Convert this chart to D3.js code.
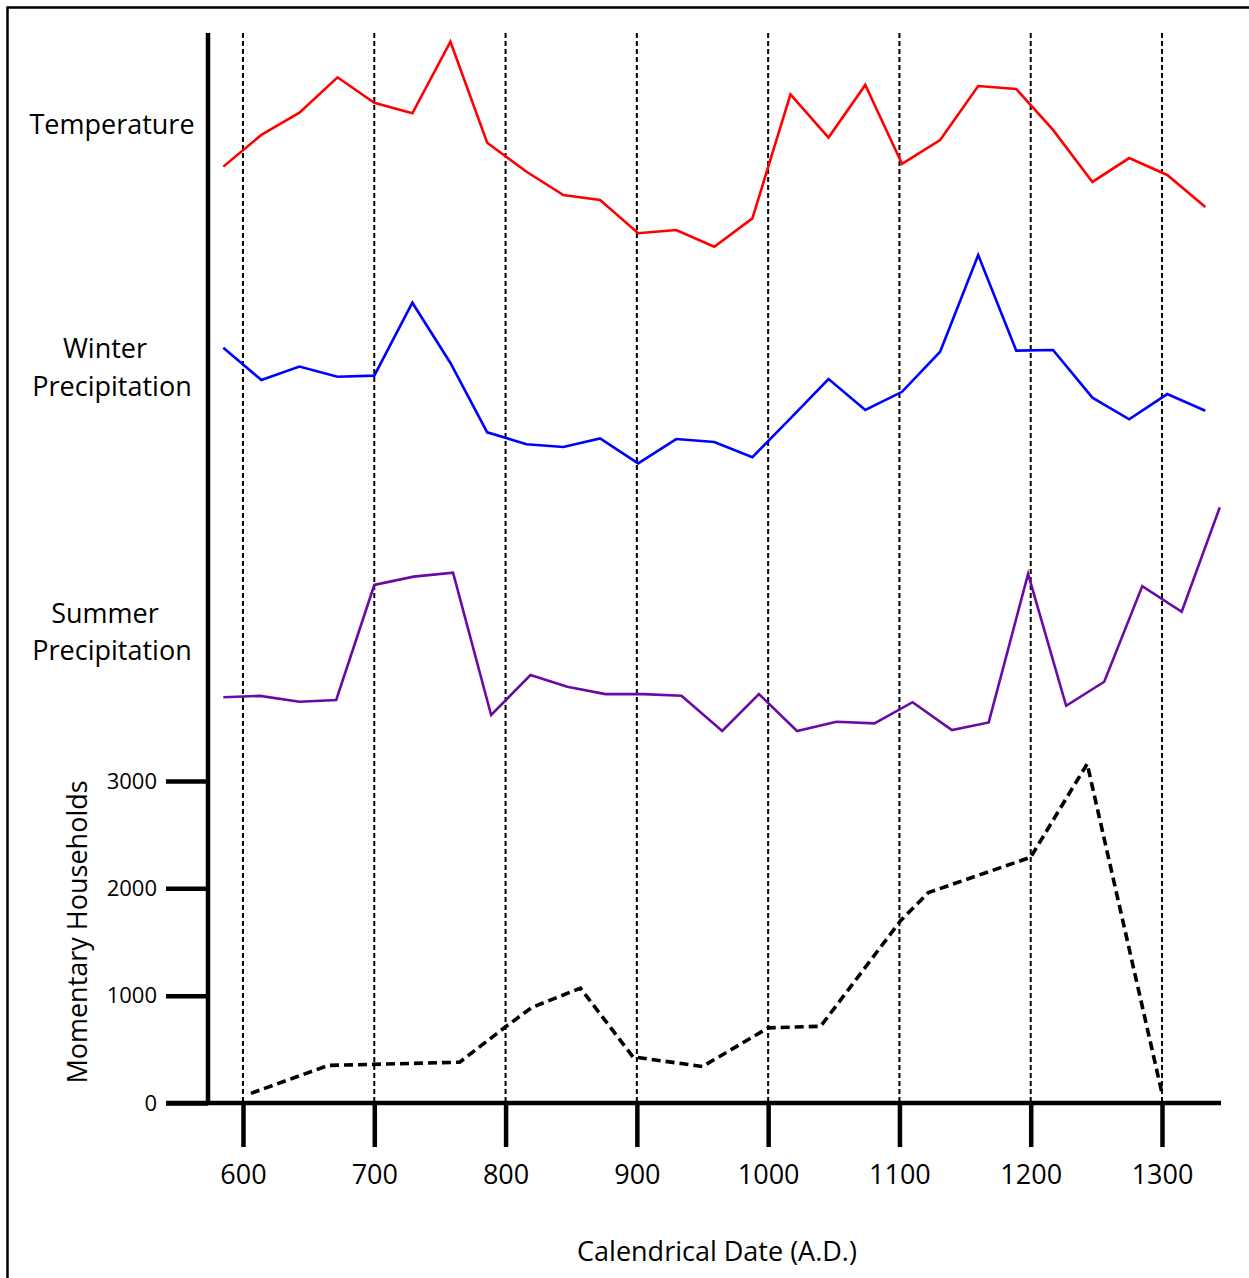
<!DOCTYPE html>
<html>
<head>
<meta charset="utf-8">
<script src="https://cdn.jsdelivr.net/npm/d3@7"></script>
<style>
  body { margin: 0; background: #fff; }
  text { font-family: "Open Sans", sans-serif; fill: #000; }
</style>
</head>
<body>
<svg id="chart" width="1249" height="1278"></svg>
<script>
// data
let xTicks = [600, 700, 800, 900, 1000, 1100, 1200, 1300];
let yTicks = [0, 1000, 2000, 3000];

// temperature + winter precipitation share the same sample years
let climateYears = [585, 614, 643, 672, 700, 729, 758, 786, 816, 844, 872, 901, 930, 959,
    988, 1017, 1046, 1074, 1102, 1131, 1160, 1189, 1217, 1247, 1275, 1304, 1333];
let temperature = [41.5, 55.6, 65.5, 81.2, 69.9, 65.2, 97.0, 52.1, 39.2, 28.9, 26.7, 11.9, 13.3, 5.9,
    18.5, 73.6, 54.4, 77.8, 42.7, 53.3, 77.3, 76.0, 57.8, 34.7, 45.3, 37.8, 23.6];
let winterPrecip = [58.8, 44.4, 50.4, 45.9, 46.4, 78.8, 52.0, 21.2, 15.9, 14.7, 18.5, 7.4, 18.2, 16.9,
    10.1, 27.4, 44.9, 31.1, 39.2, 57.0, 100, 57.5, 57.8, 36.6, 27.0, 38.2, 30.8];

let summerYears = [585, 613, 643, 671, 700, 730, 760, 789, 819, 847, 876, 905, 934, 965,
    993, 1022, 1052, 1081, 1110, 1140, 1168, 1198, 1227, 1256, 1285, 1315, 1344];
let summerPrecip = [19.0, 19.6, 17.0, 17.8, 68.9, 72.6, 74.4, 11.1, 28.9, 23.7, 20.4, 20.4, 19.7, 4.0,
    20.4, 4.0, 8.1, 7.4, 16.8, 4.4, 7.8, 73.8, 15.2, 25.9, 68.4, 57.0, 103.4];

let householdYears = [606, 665, 765, 800, 820, 857, 897, 950, 1000, 1040, 1101, 1122, 1200, 1243, 1300];
let households = [90, 350, 380, 710, 890, 1070, 430, 340, 700, 715, 1700, 1960, 2290, 3160, 90];

let svg = d3.select("#chart");

// frame (only top and left edges show in the original crop)
svg.append("path")
    .attr("d", "M7.5,1278 V7.5 H1249")
    .attr("fill", "none")
    .attr("stroke", "#000")
    .attr("stroke-width", 2.5);

let x = d3.scaleLinear().domain([600, 1300]).range([243, 1162]);

// each climate curve gets its own band, no axis
let yTemp = d3.scaleLinear().domain([0, 100]).range([260, 35]);
let yWinter = d3.scaleLinear().domain([0, 100]).range([480, 255]);
let ySummer = d3.scaleLinear().domain([0, 100]).range([740, 515]);
let yHouse = d3.scaleLinear().domain([0, 3000]).range([1103, 781]);

// dashed century lines
svg.append("g")
    .selectAll("line")
    .data(xTicks)
    .join("line")
    .attr("x1", d => x(d))
    .attr("x2", d => x(d))
    .attr("y1", 33)
    .attr("y2", 1103)
    .attr("stroke", "#000")
    .attr("stroke-width", 2)
    .attr("stroke-dasharray", "5,3");

function drawSeries(years, values, yScale, color) {
    let line = d3.line()
        .x(d => x(d[0]))
        .y(d => yScale(d[1]));
    return svg.append("path")
        .datum(d3.zip(years, values))
        .attr("d", line)
        .attr("fill", "none")
        .attr("stroke", color)
        .attr("stroke-width", 2.6)
        .attr("stroke-linejoin", "miter");
}

drawSeries(climateYears, temperature, yTemp, "#ff0000");
drawSeries(climateYears, winterPrecip, yWinter, "#0000ff");
drawSeries(summerYears, summerPrecip, ySummer, "#6a0aa6");
drawSeries(householdYears, households, yHouse, "#000")
    .attr("stroke-width", 3.6)
    .attr("stroke-dasharray", "9,5");

// axes
let xAxis = svg.append("g")
    .attr("transform", "translate(0,1103)")
    .call(d3.axisBottom(x).tickValues(xTicks).tickSize(44).tickPadding(18).tickFormat(d3.format("d")));
xAxis.select(".domain").remove();
xAxis.selectAll(".tick line").attr("stroke", "#000").attr("stroke-width", 4.5);
xAxis.selectAll(".tick text").style("font-size", "27px").attr("font-family", null);

let yAxis = svg.append("g")
    .attr("transform", "translate(208,0)")
    .call(d3.axisLeft(yHouse).tickValues(yTicks).tickSize(42).tickPadding(9).tickFormat(d3.format("d")));
yAxis.select(".domain").remove();
yAxis.selectAll(".tick line").attr("stroke", "#000").attr("stroke-width", 4.5);
yAxis.selectAll(".tick text").style("font-size", "22px").attr("font-family", null);

// main axis lines
svg.append("line")
    .attr("x1", 208).attr("x2", 208)
    .attr("y1", 33).attr("y2", 1105)
    .attr("stroke", "#000").attr("stroke-width", 4.5);
svg.append("line")
    .attr("x1", 166).attr("x2", 1221)
    .attr("y1", 1103).attr("y2", 1103)
    .attr("stroke", "#000").attr("stroke-width", 4.5);

// series labels
let labels = [
    { text: "Temperature", x: 112, y: 134 },
    { text: "Winter", x: 105, y: 358 },
    { text: "Precipitation", x: 112, y: 396 },
    { text: "Summer", x: 105, y: 623 },
    { text: "Precipitation", x: 112, y: 660 }
];
svg.append("g")
    .selectAll("text")
    .data(labels)
    .join("text")
    .attr("x", d => d.x)
    .attr("y", d => d.y)
    .attr("text-anchor", "middle")
    .style("font-size", "27px")
    .text(d => d.text);

// axis titles
svg.append("text")
    .attr("x", 717)
    .attr("y", 1261)
    .attr("text-anchor", "middle")
    .style("font-size", "27px")
    .text("Calendrical Date (A.D.)");

svg.append("text")
    .attr("transform", "translate(87,932) rotate(-90)")
    .attr("text-anchor", "middle")
    .style("font-size", "27px")
    .text("Momentary Households");
</script>
</body>
</html>
